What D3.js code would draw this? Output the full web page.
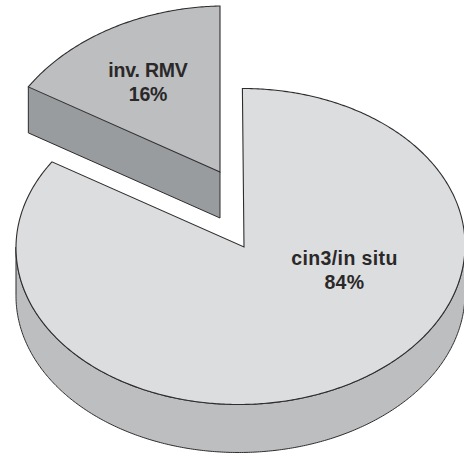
<!DOCTYPE html>
<html>
<head>
<meta charset="utf-8">
<script src="https://cdn.jsdelivr.net/npm/d3@7"></script>
<style>
  html, body { margin: 0; padding: 0; background: #fff; }
  svg { display: block; }
  text { font-family: "Liberation Sans", Arial, sans-serif; font-weight: bold; fill: #2a2829; text-anchor: middle; }
</style>
</head>
<body>
<svg id="chart" width="464" height="455"></svg>
<script>
const categories = ["cin3/in situ", "inv. RMV"];
const shares = [84, 16];
const labelLines = [["cin3/in situ", "84%"], ["inv. RMV", "16%"]];

const topFills = ["#dcddde", "#bcbec0"];
const wallFills = ["#bcbec0", "#999c9e"];
const edge = "#2e2c2d";

// Each slice sits on its own tilted ellipse; the small slice is pulled out up and to the left.
const discs = [
  { cx: 240.5, cy: 246.5, ax: 244, ay: 247, rx: 224.5, ry: 158, shearX: -0.012, shearY: 0, depth: 48 },
  { cx: 220, cy: 172, ax: 220, ay: 172, rx: 227, ry: 166, shearX: 0, shearY: -0.02, depth: 46 }
];
const labelAnchors = [[344.5, 265], [148, 77]];
const labelTracking = [0.4, -0.2];
const fontSize = 19.5, lineGap = 23.5;

const svg = d3.select("#chart");
const arcs = d3.pie().sort(null).value(d => d)(shares);

function project(disc, angle, dropped = 0) {
  const dx = disc.rx * Math.sin(angle);
  const dy = -disc.ry * Math.cos(angle);
  return [disc.cx + dx + disc.shearX * dy, disc.cy + dy + disc.shearY * dx + dropped];
}
function sweep(a0, a1) {
  const n = Math.max(2, Math.ceil(Math.abs(a1 - a0) / 0.01));
  return d3.range(n + 1).map(i => a0 + (a1 - a0) * i / n);
}
const line = d3.line();

arcs.forEach((arc, i) => {
  const disc = discs[i];
  const g = svg.append("g");
  const apex = [disc.ax, disc.ay];
  const rim = sweep(arc.startAngle, arc.endAngle);

  if (i === 0) {
    // Curved outer wall: only the near half of the rim is visible.
    const near = rim.filter(a => a >= Math.PI / 2 && a <= 3 * Math.PI / 2);
    const wall = [
      ...near.map(a => project(disc, a)),
      ...near.slice().reverse().map(a => project(disc, a, disc.depth))
    ];
    g.append("path").attr("d", line(wall) + "Z")
      .attr("fill", wallFills[i]).attr("stroke", edge).attr("stroke-width", 1);
  } else {
    // Flat cut face along the slice's front radius.
    const a = arc.startAngle;
    const face = [project(disc, a), apex, [apex[0], apex[1] + disc.depth], project(disc, a, disc.depth)];
    g.append("path").attr("d", line(face) + "Z")
      .attr("fill", wallFills[i]).attr("stroke", "none");
    g.append("path").attr("d", line([face[1], face[2], face[3], face[0]]))
      .attr("fill", "none").attr("stroke", edge).attr("stroke-width", 1);
  }

  const top = [apex, ...rim.map(a => project(disc, a))];
  g.append("path").attr("d", line(top) + "Z")
    .attr("fill", topFills[i]).attr("stroke", edge).attr("stroke-width", 1.1)
    .attr("stroke-linejoin", "miter");

  const text = g.append("text").attr("font-size", fontSize);
  labelLines[i].forEach((s, k) => {
    text.append("tspan")
      .attr("x", labelAnchors[i][0])
      .attr("y", labelAnchors[i][1] + k * lineGap)
      .attr("letter-spacing", labelTracking[i])
      .text(s);
  });
});
</script>
</body>
</html>
